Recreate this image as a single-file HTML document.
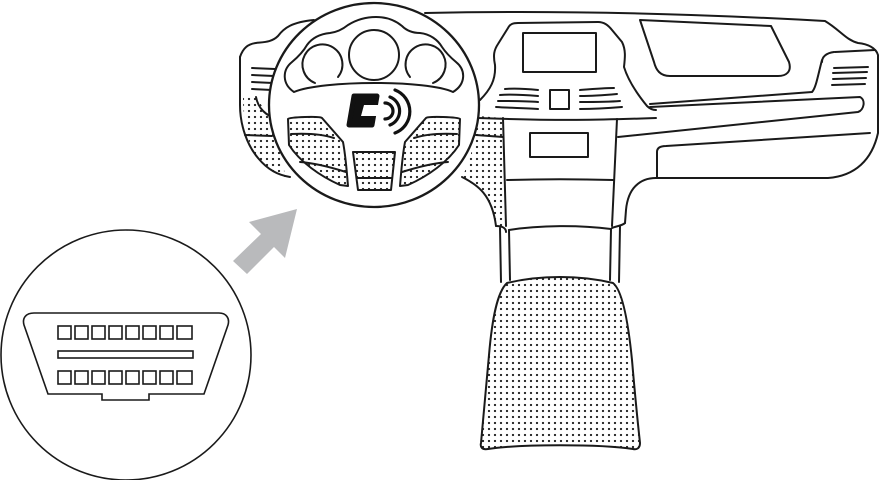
<!DOCTYPE html>
<html><head><meta charset="utf-8"><style>html,body{margin:0;padding:0;background:#fff}svg{display:block}</style></head>
<body>
<svg width="880" height="480" viewBox="0 0 880 480" xmlns="http://www.w3.org/2000/svg">
<defs>
<pattern id="dots" width="6" height="6" patternUnits="userSpaceOnUse">
<circle cx="3" cy="3" r="1.15" fill="#222"/>
</pattern>
</defs>
<g fill="none" stroke="#1a1a1a" stroke-width="2" stroke-linejoin="round" stroke-linecap="round">

<path d="M243,97 L258,97 C262,110 270,118 278,120 L285,177 C270,172 258,160 250,145 C246,130 243,115 243,97 Z" fill="url(#dots)" stroke="none"/>
<path d="M240,57 L240,105 C240,125 247,145 258,158 C268,170 278,175 290,177"/>
<path d="M240,57 C243,48 248,44 256,43 C265,42 272,42 278,36 C284,28 292,22 314,20"/>
<path d="M252,68 L275,69 M252,75 L274,76 M252,82 L273,83 M252,89 L272,90"/>
<path d="M256,97 C258,108 266,116 276,118"/>
<path d="M245,135 L272,136"/>

<path d="M478,116 L503,118 L506,226 L496,226 C494,205 486,192 474,185 L462,178 C470,160 476,140 478,116 Z" fill="url(#dots)" stroke="none"/>
<path d="M476,135 L503,137"/>
<path d="M462,177 C478,185 492,195 496,226"/>

<path d="M425,13 C560,10 700,14 825,21 C840,30 846,40 858,43 C868,44 876,48 878,55 L878,133 C872,160 855,176 828,178 L656,178"/>
<path d="M656,178 C640,178 628,188 626,210 L625,223"/>
<path d="M835,52 L875,50 M822,60 C818,75 816,88 812,92 L650,104"/>
<path d="M834,52 C826,53 822,57 822,62"/>
<path d="M834,68 L868,67 M833,73 L867,72 M833,79 L866,78 M832,85 L865,84"/>
<path d="M640,20 L771,26 L789,62 C792,72 786,76 778,76 L670,76 C660,76 656,70 654,62 Z"/>
<path d="M650,107 L860,97 C866,100 864,110 858,112 L618,137"/>
<path d="M657,178 L657,152 C657,148 660,146 666,146 L870,133"/>

<path d="M480,100 C490,90 496,80 495,65 C493,55 494,50 498,44 L508,28 C510,24 513,23 518,23 L598,22 C604,22 608,25 612,30 L622,42 C626,50 625,58 624,67 C628,80 638,95 647,106 C650,109 653,110 656,110"/>
<rect x="523" y="33" width="73" height="39"/>
<path d="M505,89 C517,88 528,89 538,90 M500,95 C513,94 526,95 538,96 M498,101 C512,101 526,101 538,102 M496,107 C512,108 526,108 538,109"/>
<rect x="550" y="90" width="19" height="19"/>
<path d="M580,90 C592,89 603,88 614,88 M580,96 C593,96 606,95 617,94 M580,102 C594,102 608,102 620,101 M580,109 C595,109 610,108 622,107"/>
<path d="M478,118 C560,121 600,120 656,118"/>
<path d="M503,118 L506,226 M617,119 L612,226"/>
<rect x="530" y="133" width="58" height="24"/>
<path d="M507,180 C540,179 580,179 613,180"/>
<path d="M496,226 C502,226 506,228 506,232 M625,223 C622,226 616,226 612,228"/>
<path d="M500,228 L501,282 M509,230 L510,280 M611,229 L610,280 M620,226 L619,282"/>
<path d="M509,230 C540,225 580,225 611,229"/>
<path d="M507,283 C540,275 580,275 613,283 C622,290 628,320 632,360 C635,395 638,425 640,443 C640,448 637,450 633,449 C600,444 520,444 488,449 C482,450 480,447 481,443 C483,420 486,390 489,355 C492,320 497,292 507,283 Z" fill="url(#dots)"/>

<ellipse cx="374" cy="105" rx="105" ry="102" fill="#fff" stroke-width="2.3"/>
<path d="M294,92 C282,84 282,70 292,62 C298,57 303,52 307,45 C312,38 320,34 330,33 C338,32 343,29 348,25 C356,20 366,17 376,17 C388,17 396,21 402,26 C406,30 412,33 420,33 C430,34 438,40 442,47 C446,53 450,57 456,62 C466,70 466,84 453,92 C428,80 322,80 294,92 Z"/>
<circle cx="374" cy="55" r="25"/>
<path d="M315,83 A20,20 0 1 1 338,77"/>
<path d="M410,77 A20,20 0 1 1 433,83"/>
<path d="M288,119 C290,117 320,116 322,118 L343,142 C346,158 347,175 348,186 L340,185 C320,176 300,162 289,145 Z" fill="url(#dots)"/>
<path d="M291,134 C310,133 325,135 334,138 M300,162 C315,163 330,167 346,172"/>
<path d="M460,119 C458,117 428,116 426,118 L405,142 C402,158 401,175 400,186 L408,185 C428,176 448,162 459,145 Z" fill="url(#dots)"/>
<path d="M457,134 C438,133 423,135 414,138 M448,162 C433,163 418,167 402,172"/>
<path d="M353,152 L395,152 L391,190 L358,190 Z" fill="url(#dots)"/>
<path d="M357,178 L392,178"/>
</g>
<polygon points="354,96 377,96 372,125 349,125" fill="#111" stroke="#111" stroke-width="5" stroke-linejoin="round"/>
<polygon points="364,105 386,105 383,116 361,116" fill="#fff"/>
<g fill="none" stroke="#111" stroke-width="3.2" stroke-linecap="round">
<path d="M385,103 A8,8 0 0 1 385,119"/>
<path d="M390,97 A15,15 0 0 1 390,125"/>
<path d="M395,90 A23,23 0 0 1 395,133"/>
</g>

<polygon points="297,209 285,258 274,247 247,274 233,261 261,234 249,222" fill="#b9babc"/>

<g fill="none" stroke="#1a1a1a" stroke-width="1.6">
<circle cx="126" cy="355" r="125" fill="#fff"/>
<path d="M34,313 L219,313 C226,313 230,318 228,325 L204,394 L149,394 L149,400 L102,400 L102,394 L48,394 L24,325 C22,318 26,313 34,313 Z"/>
<rect x="58" y="326" width="13" height="13"/><rect x="75" y="326" width="13" height="13"/><rect x="92" y="326" width="13" height="13"/><rect x="109" y="326" width="13" height="13"/><rect x="126" y="326" width="13" height="13"/><rect x="143" y="326" width="13" height="13"/><rect x="160" y="326" width="13" height="13"/><rect x="177" y="326" width="15" height="13"/>
<rect x="58" y="351" width="135" height="7"/>
<rect x="58" y="371" width="13" height="13"/><rect x="75" y="371" width="13" height="13"/><rect x="92" y="371" width="13" height="13"/><rect x="109" y="371" width="13" height="13"/><rect x="126" y="371" width="13" height="13"/><rect x="143" y="371" width="13" height="13"/><rect x="160" y="371" width="13" height="13"/><rect x="177" y="371" width="15" height="13"/>
</g>
</svg>
</body></html>
